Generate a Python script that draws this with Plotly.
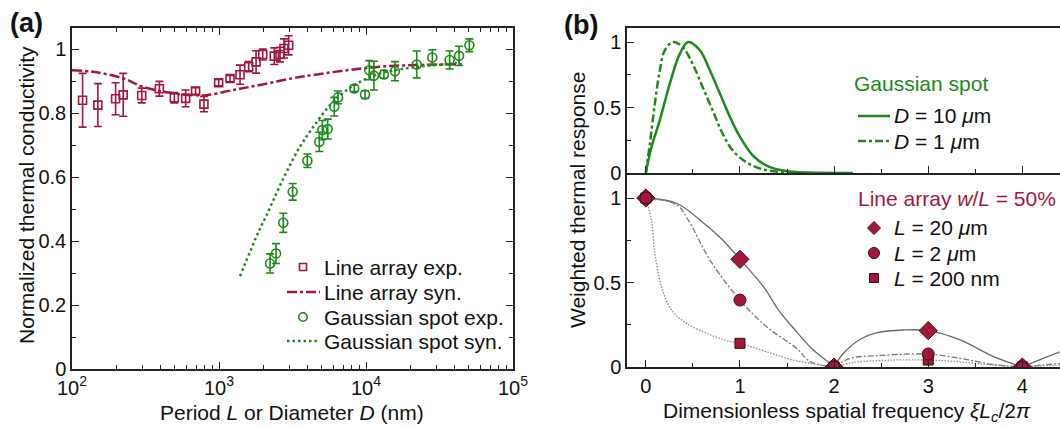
import plotly.graph_objects as go

# ---------------- Panel (a): normalized thermal conductivity ----------------
line_exp_L = [118, 150, 198, 223, 298, 393, 497, 593, 693, 790, 995, 1189, 1390,
              1592, 1787, 1983, 2378, 2599, 2768, 2978]
line_exp_k = [0.84, 0.825, 0.845, 0.857, 0.855, 0.876, 0.848, 0.846, 0.869, 0.828,
              0.895, 0.908, 0.92, 0.945, 0.96, 0.983, 0.978, 0.983, 1.002, 1.012]
line_exp_err = [0.084, 0.067, 0.05, 0.067, 0.023, 0.023, 0.016, 0.026, 0.01, 0.024,
                0.01, 0.01, 0.03, 0.016, 0.035, 0.017, 0.026, 0.023, 0.03, 0.03]

line_syn_L = [100, 139, 222, 304, 486, 665, 828, 1245, 1901, 3184, 4355, 7430,
              12450, 20890, 35560, 44670]
line_syn_k = [0.934, 0.929, 0.909, 0.882, 0.862, 0.856, 0.856, 0.872, 0.888, 0.909,
              0.919, 0.934, 0.945, 0.95, 0.952, 0.953]

gauss_exp_D = [2225, 2443, 2737, 3170, 3990, 4810, 5050, 5490, 6085, 6450, 8320,
               9850, 10520, 11320, 13240, 15740, 22130, 28260, 37060, 42960, 50470]
gauss_exp_k = [0.33, 0.361, 0.457, 0.554, 0.651, 0.71, 0.747, 0.75, 0.82, 0.849,
               0.877, 0.858, 0.934, 0.917, 0.921, 0.931, 0.952, 0.974, 0.966, 0.979,
               1.012]
gauss_exp_err = [0.03, 0.031, 0.03, 0.026, 0.021, 0.03, 0.03, 0.031, 0.029, 0.02,
                 0.01, 0.012, 0.03, 0.045, 0.012, 0.03, 0.042, 0.024, 0.028, 0.03,
                 0.02]

gauss_syn_D = [1390, 1879, 2109, 2735, 3556, 4385, 5689, 7396, 9594, 12450, 20990,
               35400, 41400]
gauss_syn_k = [0.29, 0.434, 0.481, 0.595, 0.695, 0.757, 0.825, 0.872, 0.903, 0.924,
               0.943, 0.953, 0.957]

# ---------------- Panel (b), top: Gaussian spot weighting ----------------
xi_D10 = [0, 0.061, 0.149, 0.255, 0.362, 0.45, 0.574, 0.68, 0.787, 0.894, 1.0,
          1.135, 1.277, 1.489, 1.74, 2.2]
w_D10 = [0, 0.2, 0.404, 0.683, 0.911, 1.0, 0.937, 0.784, 0.606, 0.427, 0.275,
         0.135, 0.059, 0.015, 0.003, 0]
xi_D1 = [0, 0.043, 0.096, 0.149, 0.202, 0.29, 0.39, 0.496, 0.603, 0.709, 0.816,
         0.922, 1.064, 1.241, 1.489, 1.56]
w_D1 = [0, 0.224, 0.53, 0.784, 0.937, 1.0, 0.962, 0.835, 0.657, 0.479, 0.3, 0.173,
        0.084, 0.028, 0.005, 0.003]

# ---------------- Panel (b), bottom: line array weighting ----------------
xi_L20 = [0, 0.326, 0.574, 0.8, 1.0, 1.25, 1.41, 1.585, 1.76, 1.93, 2.0,
          2.1, 2.28, 2.457, 2.74, 3.0, 3.34, 3.695, 4.0, 4.22, 4.4]
w_L20 = [1.0, 0.969, 0.87, 0.76, 0.637, 0.475, 0.337, 0.219, 0.111, 0.032, 0,
         0.081, 0.164, 0.203, 0.219, 0.215, 0.16, 0.061, 0, 0.051, 0.09]
xi_L2 = [0, 0.326, 0.45, 0.681, 1.0, 1.284, 1.603, 1.745, 2.0,
         2.17, 2.457, 2.81, 3.0, 3.34, 3.695, 4.0, 4.22, 4.4]
w_L2 = [1.0, 0.96, 0.87, 0.633, 0.396, 0.238, 0.11, 0.032, 0,
        0.051, 0.067, 0.077, 0.077, 0.051, 0.014, 0, 0.012, 0.02]
xi_L02 = [0, 0.06, 0.096, 0.167, 0.273, 0.433, 0.646, 0.858, 1.0, 1.284, 1.567,
          1.85, 2.0, 2.2, 2.626, 3.0, 3.34, 3.695, 4.0, 4.4]
w_L02 = [1.0, 0.87, 0.673, 0.475, 0.337, 0.258, 0.2, 0.156, 0.14, 0.09, 0.041,
         0.012, 0, 0.026, 0.041, 0.041, 0.03, 0.012, 0, 0.012]

harmonics = [0, 1, 2, 3, 4]
mark_L20 = [1.0, 0.637, 0, 0.215, 0]
mark_L2 = [1.0, 0.396, 0, 0.077, 0]
mark_L02 = [1.0, 0.14, 0, 0.041, 0]

a_xticks = [100, 1000, 10000, 100000]
a_xticktext = ["10<sup>2</sup>", "10<sup>3</sup>", "10<sup>4</sup>", "10<sup>5</sup>"]

W, H = 1060, 428
CRIMSON = "#a3173b"
GREEN = "#1b8a1b"
EDGE = "#3d0a14"
FONT = "Liberation Sans, Arial, Helvetica, sans-serif"
DASH_LINE_SYN = "10px,3px,3px,3px"
DOT_GAUSS_SYN = "2.5px,3px"
DASH_D1 = "8px,3px,3px,3px"


def px(x):
    return x / W


def py(y):
    return 1 - y / H


def split_lobes(xs, ys):
    """Break a curve at its interior zeros so each lobe is smoothed on its own."""
    ox, oy = [], []
    for i, (x, y) in enumerate(zip(xs, ys)):
        ox.append(x)
        oy.append(y)
        if y == 0 and 0 < i < len(xs) - 1:
            ox += [None, x]
            oy += [None, y]
    return ox, oy


fig = go.Figure()

# Panel (a) curves
fig.add_trace(go.Scatter(
    x=line_syn_L, y=line_syn_k, mode="lines", name="Line array syn.",
    line=dict(color=CRIMSON, width=2.5, dash=DASH_LINE_SYN, shape="spline"),
    xaxis="x", yaxis="y"))
fig.add_trace(go.Scatter(
    x=gauss_syn_D, y=gauss_syn_k, mode="lines", name="Gaussian spot syn.",
    line=dict(color=GREEN, width=2.5, dash=DOT_GAUSS_SYN, shape="spline"),
    xaxis="x", yaxis="y"))
fig.add_trace(go.Scatter(
    x=line_exp_L, y=line_exp_k, mode="markers", name="Line array exp.",
    marker=dict(symbol="square-open", size=8, color=CRIMSON, line=dict(width=1.6)),
    error_y=dict(type="data", array=line_exp_err, color=CRIMSON, thickness=1.6, width=4),
    xaxis="x", yaxis="y"))
fig.add_trace(go.Scatter(
    x=gauss_exp_D, y=gauss_exp_k, mode="markers", name="Gaussian spot exp.",
    marker=dict(symbol="circle-open", size=9, color=GREEN, line=dict(width=1.6)),
    error_y=dict(type="data", array=gauss_exp_err, color=GREEN, thickness=1.6, width=4),
    xaxis="x", yaxis="y"))

# Panel (b) top curves
fig.add_trace(go.Scatter(
    x=xi_D10, y=w_D10, mode="lines", name="D = 10 um",
    line=dict(color=GREEN, width=2.5, shape="spline"), xaxis="x2", yaxis="y2"))
fig.add_trace(go.Scatter(
    x=xi_D1, y=w_D1, mode="lines", name="D = 1 um",
    line=dict(color=GREEN, width=2.5, dash=DASH_D1, shape="spline"),
    xaxis="x2", yaxis="y2"))

# Panel (b) bottom curves
for xs, ys, dash, col in [(xi_L20, w_L20, "solid", "#6a6a6a"),
                          (xi_L2, w_L2, "6px,2px,2px,2px", "#7a7a7a"),
                          (xi_L02, w_L02, "1.5px,1.5px", "#8c8c8c")]:
    sx, sy = split_lobes(xs, ys)
    fig.add_trace(go.Scatter(
        x=sx, y=sy, mode="lines", connectgaps=False,
        line=dict(color=col, width=1.3, dash=dash, shape="spline"),
        xaxis="x3", yaxis="y3", hoverinfo="skip"))

for ys, sym, size in [(mark_L20, "diamond", 14), (mark_L02, "square", 10),
                      (mark_L2, "circle", 12)]:
    fig.add_trace(go.Scatter(
        x=harmonics, y=ys, mode="markers",
        marker=dict(symbol=sym, size=size, color=CRIMSON, line=dict(color=EDGE, width=1)),
        xaxis="x3", yaxis="y3"))

fig.update_traces(showlegend=False)

# ---------------- Legend keys (drawn in paper space) ----------------
shapes = []
annotations = []


def key_text(x, y, text, color="#111", size=21):
    annotations.append(dict(text=text, x=px(x), y=py(y), xref="paper", yref="paper",
                            xanchor="left", yanchor="middle", showarrow=False,
                            font=dict(size=size, color=color, family=FONT)))


def key_line(x0, x1, y, color, dash, width=2.5):
    shapes.append(dict(type="line", xref="paper", yref="paper", x0=px(x0), x1=px(x1),
                       y0=py(y), y1=py(y), line=dict(color=color, width=width, dash=dash)))


def key_box(kind, cx, cy, r, line_color, fill="rgba(0,0,0,0)", lw=1.6):
    if kind == "diamond":
        path = (f"M {px(cx)},{py(cy - r)} L {px(cx + r)},{py(cy)} "
                f"L {px(cx)},{py(cy + r)} L {px(cx - r)},{py(cy)} Z")
        shapes.append(dict(type="path", xref="paper", yref="paper", path=path,
                           fillcolor=fill, line=dict(color=line_color, width=lw)))
    else:
        shapes.append(dict(type="circle" if kind == "circle" else "rect",
                           xref="paper", yref="paper",
                           x0=px(cx - r), x1=px(cx + r), y0=py(cy + r), y1=py(cy - r),
                           fillcolor=fill, line=dict(color=line_color, width=lw)))


# panel (a) key
key_box("square", 303, 267, 3.5, CRIMSON)
key_text(322, 267, "Line array exp.")
key_line(287, 320, 292, CRIMSON, DASH_LINE_SYN)
key_text(322, 292, "Line array syn.")
key_box("circle", 303, 317, 4.2, GREEN)
key_text(322, 317, "Gaussian spot exp.")
key_line(287, 320, 341, GREEN, DOT_GAUSS_SYN)
key_text(322, 341, "Gaussian spot syn.")

# panel (b) top key
key_text(852, 83, "Gaussian spot", color=GREEN)
key_line(858, 890, 116, GREEN, "solid")
key_text(892, 116, "<i>D</i> = 10 <i>μ</i>m")
key_line(858, 890, 141, GREEN, DASH_D1)
key_text(892, 141, "<i>D</i> = 1 <i>μ</i>m")

# panel (b) bottom key
key_text(856, 198, "Line array <i>w</i>/<i>L</i> = 50%", color=CRIMSON)
key_box("diamond", 874, 228, 6.5, EDGE, fill=CRIMSON, lw=1)
key_text(892, 228, "<i>L</i> = 20 <i>μ</i>m")
key_box("circle", 874, 253, 5.5, EDGE, fill=CRIMSON, lw=1)
key_text(892, 253, "<i>L</i> = 2 <i>μ</i>m")
key_box("square", 874, 278, 4.5, EDGE, fill=CRIMSON, lw=1)
key_text(892, 278, "<i>L</i> = 200 nm")

# panel labels and axis titles
annotations += [
    dict(text="<b>(a)</b>", x=px(8), y=py(23), xref="paper", yref="paper",
         xanchor="left", yanchor="middle", showarrow=False, font=dict(size=27)),
    dict(text="<b>(b)</b>", x=px(562), y=py(25), xref="paper", yref="paper",
         xanchor="left", yanchor="middle", showarrow=False, font=dict(size=27)),
    dict(text="Normalized thermal conductivity", x=px(26), y=py(195),
         xref="paper", yref="paper", textangle=-90, showarrow=False,
         xanchor="center", yanchor="middle", font=dict(size=21)),
    dict(text="Period <i>L</i> or Diameter <i>D</i> (nm)", x=px(292), y=py(412),
         xref="paper", yref="paper", showarrow=False,
         xanchor="center", yanchor="middle", font=dict(size=21)),
    dict(text="Weighted thermal response", x=px(577), y=py(200),
         xref="paper", yref="paper", textangle=-90, showarrow=False,
         xanchor="center", yanchor="middle", font=dict(size=21)),
    dict(text="Dimensionless spatial frequency <i>ξL</i><sub><i>c</i></sub>/2<i>π</i>",
         x=px(847), y=py(412), xref="paper", yref="paper", showarrow=False,
         xanchor="center", yanchor="middle", font=dict(size=21)),
]

axis_common = dict(showline=True, linecolor="#222", linewidth=1.5, ticks="inside",
                   tickcolor="#222", tickwidth=1.2, ticklen=7, showgrid=False,
                   zeroline=False, automargin=False,
                   tickfont=dict(size=20, color="#111", family=FONT))

minor_log = [m * 10 ** e for e in (2, 3, 4) for m in range(2, 10)]

fig.update_layout(
    width=W, height=H,
    margin=dict(l=0, r=0, t=0, b=0, pad=0, autoexpand=False),
    paper_bgcolor="white", plot_bgcolor="white", showlegend=False,
    font=dict(family=FONT, size=20, color="#111"),
    xaxis=dict(axis_common, type="log", domain=[px(72), px(513)], range=[2, 5],
               tickvals=a_xticks, ticktext=a_xticktext, mirror="ticks",
               minor=dict(tickvals=minor_log, ticks="inside", ticklen=4,
                          tickcolor="#222", tickwidth=1.1),
               anchor="y"),
    yaxis=dict(axis_common, domain=[py(369), py(28)], range=[0, 1.066],
               tickvals=[0, 0.2, 0.4, 0.6, 0.8, 1],
               ticktext=["0", "0.2", "0.4", "0.6", "0.8", "1"],
               mirror="ticks",
               minor=dict(dtick=0.1, ticks="inside", ticklen=4, tickcolor="#222",
                          tickwidth=1.1),
               anchor="x"),
    xaxis2=dict(axis_common, domain=[px(627), 1.0], range=[-0.2, 4.4],
                dtick=1, showticklabels=False, mirror=True,
                minor=dict(dtick=0.5, ticks="inside", ticklen=4, tickcolor="#222"),
                anchor="y2"),
    yaxis2=dict(axis_common, domain=[py(173), py(28)], range=[0, 1.107],
                tickvals=[0, 0.5, 1], ticktext=["0", "0.5", "1"],
                minor=dict(dtick=0.25, ticks="inside", ticklen=4, tickcolor="#222"),
                anchor="x2"),
    xaxis3=dict(axis_common, domain=[px(627), 1.0], range=[-0.2, 4.4],
                tickvals=[0, 1, 2, 3, 4], ticktext=["0", "1", "2", "3", "4"],
                minor=dict(dtick=0.5, ticks="inside", ticklen=4, tickcolor="#222"),
                anchor="y3"),
    yaxis3=dict(axis_common, domain=[py(367), py(173)], range=[0, 1.148],
                tickvals=[0, 0.5, 1], ticktext=["0", "0.5", "1"],
                minor=dict(dtick=0.25, ticks="inside", ticklen=4, tickcolor="#222"),
                anchor="x3"),
    shapes=shapes,
    annotations=annotations,
)

fig.write_html("out.html")
